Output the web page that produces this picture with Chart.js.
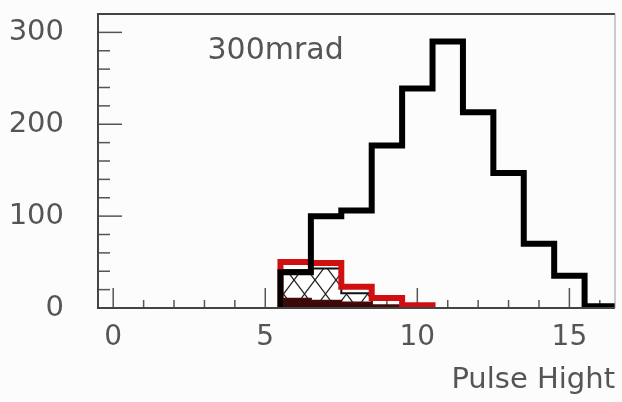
<!DOCTYPE html>
<html>
<head>
<meta charset="utf-8">
<script src="https://cdn.jsdelivr.net/npm/chart.js@4.4.0/dist/chart.umd.min.js"></script>
<style>
body { margin: 0; background: #fcfcfc; }
</style>
</head>
<body>
<canvas id="myChart" width="622" height="402"></canvas>
<script>
// bin centres and counts for each histogram
let mainBins = [6, 7, 8, 9, 10, 11, 12, 13, 14, 15, 16];
let mainCounts = [39, 100, 106, 177, 239, 290, 213, 147, 70, 35, 2];
let redBins = [6, 7, 8, 9, 10];
let redCounts = [50, 49, 23, 11, 3];
let hatchBins = [6, 7, 8];
let hatchCounts = [41, 43, 16];
let darkBins = [6, 7, 8, 9];
let darkCounts = [10, 8, 6, 3];
let purpleBins = [8, 9];
let purpleCounts = [2, 1];
let xTickLabels = [0, 5, 10, 15];
let yTickLabels = [0, 100, 200, 300];
let label = '300mrad';
let binWidth = 1;

// turn bins into step points (left edges), closed down to zero at both ends
function steps(bins, counts){
  let pts = [{x: bins[0] - binWidth / 2, y: 0}];
  for (let i = 0; i < bins.length; i++) {
    pts.push({x: bins[i] - binWidth / 2, y: counts[i]});
  }
  let last = bins.length - 1;
  pts.push({x: bins[last] + binWidth / 2, y: counts[last]});
  pts.push({x: bins[last] + binWidth / 2, y: 0});
  return pts;
}

function crossHatch(ctx){
  const c = document.createElement('canvas');
  c.width = 21; c.height = 28;
  const g = c.getContext('2d');
  g.fillStyle = '#fff';
  g.fillRect(0, 0, 21, 28);
  g.strokeStyle = '#222';
  g.lineWidth = 1.3;
  g.beginPath();
  g.moveTo(0, 0); g.lineTo(21, 28);
  g.moveTo(21, 0); g.lineTo(0, 28);
  g.stroke();
  return ctx.createPattern(c, 'repeat');
}

const frameTicks = {
  id: 'frameTicks',
  beforeDatasetsDraw(chart){
    const {ctx, chartArea: a, scales: {x, y}} = chart;
    ctx.save();
    ctx.strokeStyle = '#555';
    ctx.lineWidth = 1.5;
    for (let v = 0; v <= 320; v += 20) {
      const py = y.getPixelForValue(v);
      const len = v % 100 === 0 ? 24 : 12;
      ctx.beginPath(); ctx.moveTo(a.left, py); ctx.lineTo(a.left + len, py); ctx.stroke();
    }
    for (let v = 0; v <= 16; v++) {
      const px = x.getPixelForValue(v);
      const len = v % 5 === 0 ? 20 : 8;
      ctx.beginPath(); ctx.moveTo(px, a.bottom); ctx.lineTo(px, a.bottom - len); ctx.stroke();
    }
    ctx.restore();
  },
  afterDatasetsDraw(chart){
    const {ctx, chartArea: a, scales: {x, y}} = chart;
    ctx.save();
    ctx.strokeStyle = '#444';
    ctx.lineWidth = 2;
    ctx.beginPath();
    ctx.moveTo(a.right, a.top); ctx.lineTo(a.left, a.top);
    ctx.lineTo(a.left, a.bottom); ctx.lineTo(a.right, a.bottom);
    ctx.stroke();
    ctx.strokeStyle = '#999';
    ctx.lineWidth = 1;
    ctx.beginPath(); ctx.moveTo(a.right, a.top); ctx.lineTo(a.right, a.bottom); ctx.stroke();
    ctx.fillStyle = '#555';
    ctx.font = '30px "DejaVu Sans"';
    ctx.textBaseline = 'middle';
    ctx.fillText(label, x.getPixelForValue(3.1), y.getPixelForValue(280));
    ctx.restore();
  }
};

function draw_chart(){
  const canvas = document.getElementById('myChart');
  const ctx = canvas.getContext('2d');
  new Chart(canvas, {
    type: 'line',
    data: {
      datasets: [
        {data: steps(mainBins, mainCounts), borderColor: '#000', borderWidth: 6, order: 1},
        {data: steps(redBins, redCounts), borderColor: '#d01010', borderWidth: 6, order: 2},
        {data: steps(darkBins, darkCounts), borderColor: '#4a0808', backgroundColor: '#3a0a0a', borderWidth: 2, fill: 'origin', order: 3},
        {data: steps(purpleBins, purpleCounts), borderColor: '#b010c0', borderWidth: 3, order: 4},
        {data: steps(hatchBins, hatchCounts), borderColor: '#111', backgroundColor: crossHatch(ctx), borderWidth: 2, fill: 'origin', order: 5}
      ]
    },
    options: {
      responsive: false,
      animation: false,
      layout: {padding: {top: 14, right: 7, left: 0, bottom: 0}},
      elements: {
        line: {stepped: true, tension: 0, borderJoinStyle: 'miter', borderCapStyle: 'butt'},
        point: {radius: 0}
      },
      plugins: {legend: {display: false}, tooltip: {enabled: false}},
      scales: {
        x: {
          type: 'linear', min: -0.5, max: 16.5,
          grid: {display: false}, border: {display: false},
          afterBuildTicks: s => { s.ticks = xTickLabels.map(v => ({value: v})); },
          ticks: {font: {size: 28, family: 'DejaVu Sans'}, color: '#555', padding: 5, maxRotation: 0, autoSkip: false},
          title: {display: true, text: 'Pulse Hight', align: 'end', font: {size: 29, family: 'DejaVu Sans'}, color: '#555', padding: {top: 4, bottom: 4}},
          afterFit: s => { s.height = 94; s.paddingLeft = 0; s.paddingRight = 0; }
        },
        y: {
          type: 'linear', min: 0, max: 320,
          grid: {display: false}, border: {display: false},
          afterBuildTicks: s => { s.ticks = yTickLabels.map(v => ({value: v})); },
          ticks: {font: {size: 29, family: 'DejaVu Sans'}, color: '#555', padding: 26},
          afterFit: s => { s.width = 98; s.paddingTop = 0; s.paddingBottom = 0; }
        }
      }
    },
    plugins: [frameTicks]
  });
}

draw_chart();
</script>
</body>
</html>
